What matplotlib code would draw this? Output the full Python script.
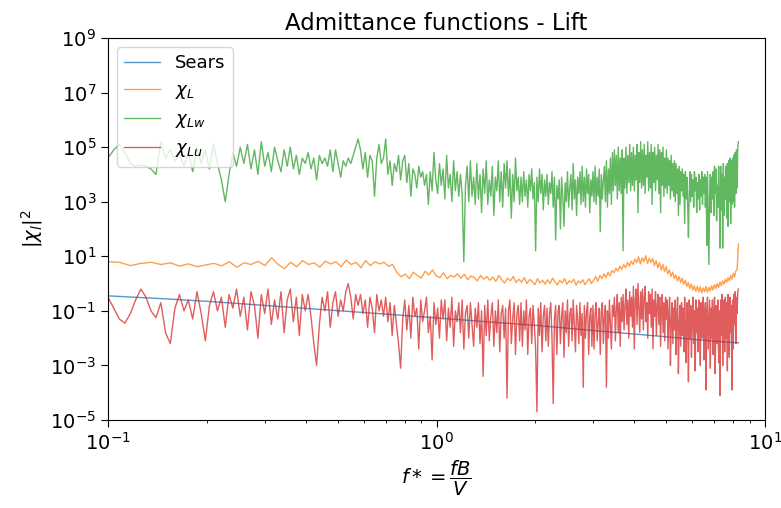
import numpy as np
import matplotlib
matplotlib.use("Agg")
import matplotlib.pyplot as plt
from matplotlib.ticker import NullLocator

# Reduced frequency range covered by the spectra
F_MIN, F_MAX = 0.1, 8.3

# Sears function |S|^2 at a few reduced frequencies (log10 of value)
sears_f = [0.1, 0.15, 0.2, 0.3, 0.4, 0.6, 0.8, 1.0, 1.5, 2.0, 3.0, 4.0, 5.0, 6.0, 7.0, 8.3]
sears_log = [-0.45, -0.56, -0.65, -0.80, -0.91, -1.06, -1.17, -1.26, -1.42, -1.53,
             -1.72, -1.85, -1.95, -2.04, -2.11, -2.17]

# chi_L: lift admittance (log10), 200 frequency bins
chi_l_log = [
    0.80, 0.78, 0.66, 0.74, 0.78, 0.70, 0.76, 0.64, 0.72, 0.62,
    0.68, 0.74, 0.65, 0.80, 0.60, 0.76, 0.70, 0.82, 0.66, 0.95,
    0.70, 0.55, 0.78, 0.62, 0.84, 0.70, 0.76, 0.60, 0.82, 0.72,
    0.80, 0.62, 0.86, 0.70, 0.78, 0.58, 0.84, 0.66, 0.80, 0.72,
    0.78, 0.64, 0.70, 0.40, 0.25, 0.35, 0.18, 0.42, 0.30, 0.20,
    0.45, 0.32, 0.50, 0.28, 0.22, 0.40, 0.18, 0.30, 0.24, 0.36,
    0.20, 0.34, 0.14, 0.28, 0.22, 0.10, 0.30, 0.16, 0.26, 0.12,
    0.24, 0.08, 0.30, 0.14, 0.02, 0.20, 0.10, 0.26, 0.04, 0.16,
    0.05, 0.22, 0.00, 0.15, 0.08, -0.04, 0.18, 0.02, 0.12, -0.02,
    0.14, 0.00, 0.20, 0.06, -0.05, 0.12, 0.02, 0.18, -0.03, 0.10,
    0.04, 0.16, -0.06, 0.10, 0.02, 0.14, -0.04, 0.08, 0.18, 0.00,
    0.12, 0.26, 0.08, 0.30, 0.18, 0.36, 0.22, 0.42, 0.28, 0.48,
    0.40, 0.56, 0.46, 0.64, 0.52, 0.70, 0.58, 0.78, 0.64, 0.82,
    0.70, 0.90, 0.76, 0.98, 0.72, 0.94, 0.80, 1.02, 0.74, 0.92,
    0.78, 0.92, 0.66, 0.84, 0.58, 0.76, 0.50, 0.70, 0.44, 0.62,
    0.36, 0.50, 0.26, 0.42, 0.18, 0.32, 0.10, 0.26, 0.04, 0.20,
    -0.02, 0.12, -0.10, 0.04, -0.18, -0.02, -0.24, -0.08, -0.28, -0.10,
    -0.30, -0.12, -0.34, -0.16, -0.30, -0.10, -0.32, -0.14, -0.26, -0.08,
    -0.24, -0.04, -0.18, 0.00, -0.14, 0.06, -0.08, 0.10, -0.02, 0.16,
    0.04, 0.22, 0.10, 0.30, 0.16, 0.38, 0.24, 0.46, 0.52, 1.45,
]

# chi_Lw: vertical-gust lift admittance (log10), 400 frequency bins
chi_lw_log = [
    4.6, 4.9, 5.1, 4.8, 4.4, 4.3, 4.35, 4.3, 4.2, 4.0,
    5.2, 4.6, 4.9, 4.5, 4.7, 4.3, 4.8, 4.1, 5.0, 4.4,
    4.9, 4.2, 5.1, 4.4, 3.8, 3.0, 4.0, 4.8, 4.3, 5.0,
    4.4, 5.1, 4.2, 4.9, 4.0, 5.2, 4.3, 4.8, 4.1, 5.0,
    4.5, 4.1, 4.9, 4.3, 5.0, 4.2, 4.7, 4.0, 4.6, 4.4,
    4.8, 4.2, 4.6, 3.8, 4.7, 4.4, 4.6, 4.3, 4.9, 4.1,
    4.9, 4.4, 3.9, 4.5, 4.3, 4.6, 4.4, 4.7, 5.0, 5.3,
    4.9, 4.2, 4.8, 3.9, 4.7, 4.5, 3.2, 4.6, 5.1, 4.4,
    4.6, 5.3, 4.0, 4.5, 3.6, 4.4, 4.1, 4.7, 3.8, 4.5,
    4.7, 3.7, 4.4, 3.2, 4.2, 4.0, 3.5, 4.3, 3.9, 4.1,
    3.6, 4.0, 2.9, 4.1, 3.4, 4.8, 3.8, 3.3, 4.4, 3.6,
    4.2, 3.1, 4.7, 3.5, 4.0, 3.0, 4.5, 3.4, 4.1, 3.2,
    4.0, 3.3, 0.8, 3.6, 4.3, 3.0, 4.5, 3.2, 3.9, 2.9,
    4.4, 3.1, 4.0, 2.6, 4.2, 3.3, 4.5, 2.9, 3.8, 3.2,
    4.3, 2.5, 3.9, 3.4, 4.5, 3.0, 4.1, 2.8, 4.4, 3.5,
    4.5, 3.2, 4.2, 2.4, 4.0, 3.0, 4.6, 3.4, 3.9, 2.9,
    3.9, 3.0, 4.1, 3.2, 3.8, 2.8, 4.0, 3.4, 4.2, 3.1,
    3.7, 1.2, 3.9, 3.0, 4.2, 3.3, 4.0, 2.7, 3.8, 3.2,
    4.0, 2.9, 3.7, 3.3, 4.1, 2.8, 3.9, 1.6, 3.6, 3.1,
    3.8, 2.0, 3.9, 3.2, 2.1, 3.7, 3.0, 4.1, 2.8, 3.5,
    4.0, 2.7, 4.4, 3.1, 3.8, 2.5, 3.9, 3.3, 4.1, 2.9,
    4.3, 3.0, 3.9, 2.8, 4.2, 3.3, 4.0, 2.6, 3.8, 3.2,
    4.1, 3.0, 4.3, 2.9, 3.9, 3.2, 4.2, 1.9, 4.0, 3.1,
    3.8, 4.3, 3.0, 4.5, 2.8, 4.2, 3.3, 4.6, 2.9, 4.8,
    3.4, 4.9, 3.6, 4.7, 3.1, 5.0, 3.4, 4.6, 3.3, 4.9,
    1.2, 4.6, 3.5, 5.0, 3.3, 4.7, 3.7, 5.1, 3.4, 4.8,
    3.6, 5.0, 3.4, 4.7, 3.8, 5.1, 2.6, 4.8, 3.7, 5.2,
    3.5, 4.9, 3.6, 5.1, 3.3, 4.7, 3.9, 5.2, 3.4, 4.8,
    3.5, 5.1, 2.9, 4.8, 3.7, 5.0, 3.4, 4.7, 3.8, 5.1,
    3.3, 4.9, 2.6, 4.8, 3.6, 5.0, 3.2, 4.6, 3.5, 4.9,
    3.3, 4.6, 3.6, 4.5, 3.1, 4.7, 3.4, 4.4, 3.2, 4.5,
    3.0, 4.4, 3.3, 4.2, 2.5, 4.3, 2.9, 4.1, 3.4, 4.2,
    3.2, 4.0, 2.2, 4.1, 3.1, 3.9, 2.9, 1.7, 3.3, 4.1,
    3.0, 4.0, 3.2, 3.8, 2.8, 4.1, 3.4, 3.9, 2.6, 3.7,
    3.1, 4.0, 2.7, 3.8, 3.2, 4.1, 2.9, 3.9, 3.3, 4.0,
    2.8, 3.9, 1.4, 4.1, 2.4, 0.7, 3.2, 4.0, 2.6, 3.9,
    3.1, 4.1, 2.5, 4.3, 3.3, 4.2, 2.3, 3.6, 2.8, 4.3,
    3.0, 1.3, 4.3, 2.7, 4.0, 1.3, 4.4, 2.5, 3.9, 3.1,
    4.3, 2.4, 4.4, 2.1, 4.5, 3.0, 4.6, 2.2, 4.5, 2.9,
    4.6, 3.0, 4.7, 2.8, 4.8, 3.3, 4.9, 3.5, 5.0, 5.2,
]

# chi_Lu: longitudinal-gust lift admittance (log10), 400 frequency bins
chi_lu_log = [
    -0.5, -0.9, -1.3, -1.45, -1.1, -0.6, -0.2, -0.5, -1.0, -1.25,
    -0.7, -1.8, -2.2, -0.9, -0.4, -1.0, -0.6, -1.3, -0.3, -1.1,
    -2.1, -0.8, -0.3, -1.0, -0.5, -1.6, -0.4, -0.9, -0.2, -1.2,
    -0.5, -1.7, -0.3, -0.8, -2.0, -0.4, -1.1, -0.2, -1.5, -0.6,
    -1.3, -0.3, -1.8, -0.6, -0.2, -1.4, -0.5, -1.9, -0.4, -1.0,
    -0.4, -1.2, -2.2, -3.0, -1.5, -0.5, -1.0, -0.3, -1.6, -0.7,
    -0.3, -1.2, -0.6, -1.0, -0.3, 0.0, -0.5, -1.3, -0.4, -0.8,
    -0.4, -1.1, -0.6, -1.6, -0.5, -0.9, -1.8, -0.4, -1.0, -0.6,
    -1.2, -0.5, -1.4, -0.7, -1.9, -0.8, -1.5, -2.2, -3.1, -1.3,
    -0.6, -1.7, -0.8, -2.0, -0.5, -1.2, -0.9, -2.4, -0.6, -1.4,
    -1.0, -0.5, -1.8, -1.2, -2.8, -0.7, -1.5, -0.9, -2.0, -0.6,
    -1.3, -0.6, -2.1, -0.9, -1.6, -0.5, -2.3, -1.0, -1.4, -0.7,
    -1.8, -0.6, -2.4, -1.1, -0.8, -2.0, -0.7, -1.5, -2.3, -0.9,
    -1.6, -0.7, -2.2, -1.0, -3.4, -0.8, -1.9, -0.6, -2.1, -1.2,
    -0.7, -2.3, -1.0, -1.8, -0.6, -2.5, -1.1, -0.8, -2.0, -0.9,
    -4.2, -1.0, -0.6, -2.2, -1.3, -0.7, -2.6, -1.1, -0.8, -2.1,
    -0.7, -2.3, -1.0, -1.7, -0.6, -2.6, -1.2, -0.9, -2.2, -0.8,
    -1.5, -2.4, -4.7, -0.9, -1.9, -0.7, -2.5, -1.2, -0.8, -2.1,
    -0.9, -2.3, -1.1, -0.7, -2.0, -4.4, -1.3, -0.8, -2.6, -1.0,
    -0.8, -2.2, -1.2, -0.7, -2.7, -1.0, -1.8, -0.6, -2.3, -1.1,
    -0.9, -2.1, -0.6, -1.5, -2.5, -0.8, -1.3, -2.2, -0.7, -1.9,
    -1.1, -3.8, -0.8, -2.0, -1.0, -0.7, -2.6, -1.2, -0.9, -2.3,
    -0.8, -2.4, -1.1, -0.7, -2.1, -1.4, -0.9, -2.6, -1.0, -0.7,
    -2.2, -1.2, -0.8, -3.8, -1.0, -2.0, -0.6, -1.5, -2.4, -0.8,
    -1.2, -0.5, -2.1, -0.9, -0.4, -1.8, -0.7, -2.3, -0.5, -1.4,
    -0.4, -1.7, -0.8, -0.2, -1.5, -0.6, -2.0, -0.3, -1.2, -0.5,
    -1.6, -0.1, -2.4, -0.6, -0.2, -1.5, 0.0, -0.9, -1.8, -0.3,
    -1.3, -0.2, -1.7, -0.5, -0.1, -1.4, -0.7, -2.0, -0.3, -1.1,
    -0.4, -1.6, -0.2, -2.4, -0.6, -1.2, -0.3, -1.9, -0.8, -0.4,
    -1.5, -0.5, -2.3, -0.9, -0.4, -1.8, -0.7, -2.1, -0.5, -1.3,
    -0.6, -2.4, -1.0, -0.5, -3.0, -1.4, -0.7, -2.2, -0.9, -1.7,
    -0.6, -2.6, -1.1, -0.5, -3.3, -1.5, -0.8, -2.3, -0.7, -1.9,
    -0.9, -2.5, -0.5, -1.6, -2.9, -0.7, -1.2, -3.6, -0.6, -2.0,
    -0.8, -2.7, -1.3, -0.5, -2.2, -1.0, -3.2, -0.6, -1.8, -0.9,
    -2.5, -0.6, -1.4, -3.0, -0.7, -2.0, -1.1, -0.5, -2.8, -1.2,
    -0.7, -3.9, -1.0, -0.5, -2.4, -1.5, -0.6, -3.1, -0.9, -2.0,
    -0.6, -2.6, -1.2, -0.5, -3.3, -0.8, -1.7, -2.2, -0.6, -2.9,
    -1.0, -4.1, -0.6, -1.9, -0.4, -3.0, -1.1, -0.6, -2.5, -0.5,
    -2.0, -0.7, -3.2, -0.4, -1.4, -2.7, -0.5, -1.8, -0.8, -3.9,
    -0.6, -2.4, -0.4, -1.5, -0.3, -2.2, -0.5, -1.1, -0.3, -0.2,
]


def freq_bins(n):
    """Frequency bins from F_MIN to F_MAX, finer towards high frequency."""
    return np.linspace(np.sqrt(F_MIN), np.sqrt(F_MAX), n) ** 2


f_l = freq_bins(len(chi_l_log))
f_lw = freq_bins(len(chi_lw_log))
f_lu = freq_bins(len(chi_lu_log))

fig = plt.figure(figsize=(7.81, 5.08), dpi=100)
ax = fig.add_axes([0.1383, 0.1732, 0.8412, 0.7520])

lw, alpha = 1.0, 0.75
ax.loglog(sears_f, 10 ** np.array(sears_log), lw=lw, alpha=alpha, color="C0", label="Sears")
ax.loglog(f_l, 10 ** np.array(chi_l_log), lw=lw, alpha=alpha, color="C1", label=r"$\chi_L$")
ax.loglog(f_lw, 10 ** np.array(chi_lw_log), lw=lw, alpha=alpha, color="C2", label=r"$\chi_{Lw}$")
ax.loglog(f_lu, 10 ** np.array(chi_lu_log), lw=lw, alpha=alpha, color="C3", label=r"$\chi_{Lu}$")

ax.set_xlim(0.1, 10)
ax.set_ylim(1e-5, 1e9)
ax.set_yticks([10.0 ** k for k in range(-5, 10, 2)])
ax.yaxis.set_minor_locator(NullLocator())

fs = 14
ax.tick_params(labelsize=fs, length=5)
ax.set_title("Admittance functions - Lift", fontsize=16.5)
ax.set_xlabel(r"$f* = \dfrac{fB}{V}$", fontsize=fs)
ax.set_ylabel(r"$|\chi_l|^2$", fontsize=fs)
ax.legend(loc="upper left", fontsize=13)

fig.savefig("out.png", dpi=100)
